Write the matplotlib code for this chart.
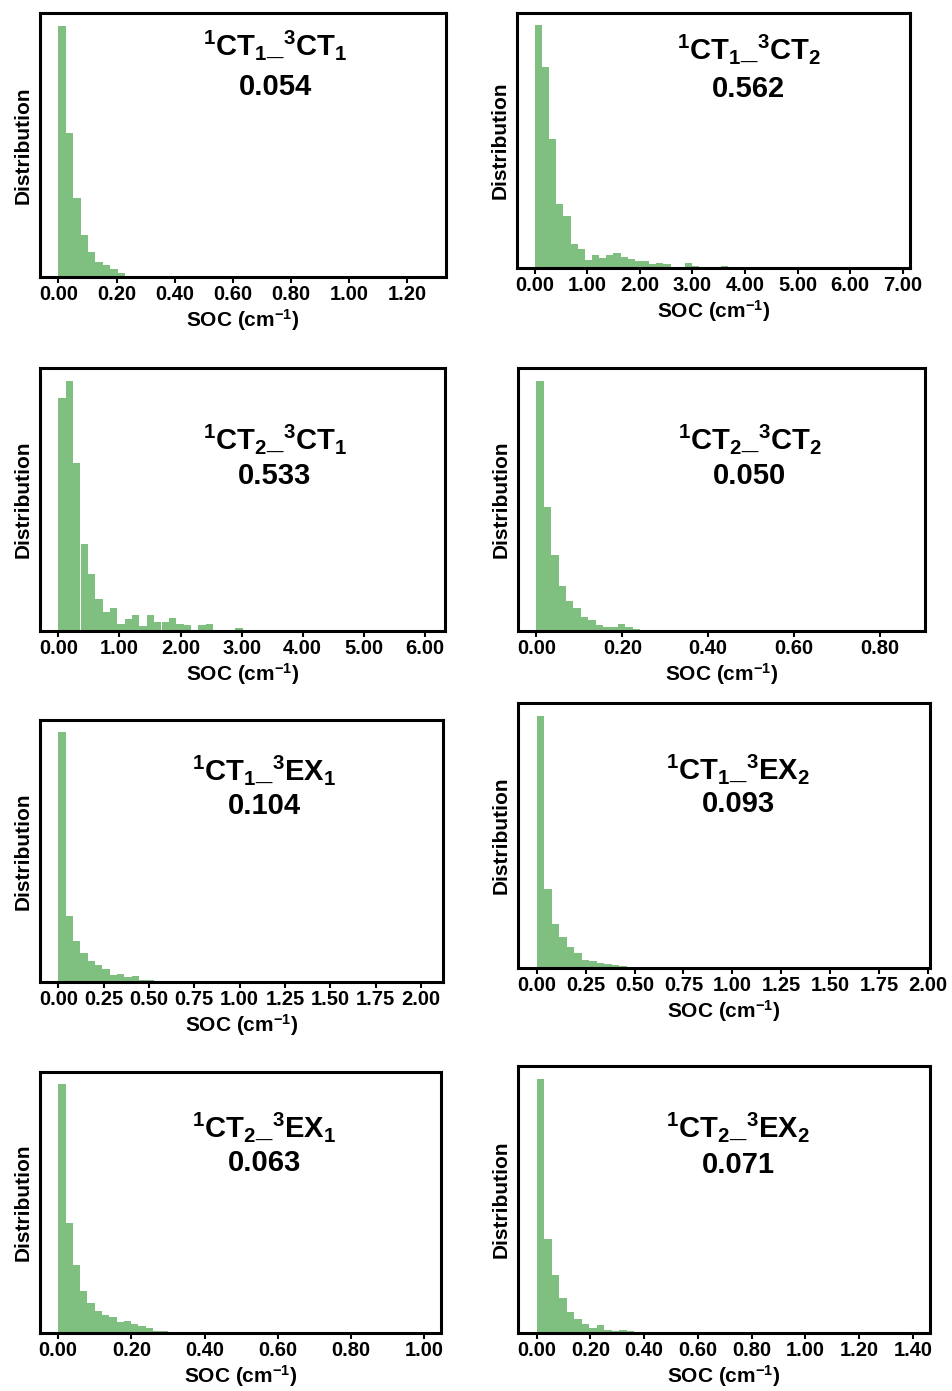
import numpy as np
import matplotlib
matplotlib.use("Agg")
import matplotlib.pyplot as plt

plt.rcParams['font.family'] = ['Liberation Sans', 'DejaVu Sans']
plt.rcParams['font.weight'] = 'bold'
plt.rcParams['mathtext.default'] = 'regular'

# pair labels and average SOC
labels = [r'$^{1}$CT$_{1}$_$^{3}$CT$_{1}$', r'$^{1}$CT$_{1}$_$^{3}$CT$_{2}$',
          r'$^{1}$CT$_{2}$_$^{3}$CT$_{1}$', r'$^{1}$CT$_{2}$_$^{3}$CT$_{2}$',
          r'$^{1}$CT$_{1}$_$^{3}$EX$_{1}$', r'$^{1}$CT$_{1}$_$^{3}$EX$_{2}$',
          r'$^{1}$CT$_{2}$_$^{3}$EX$_{1}$', r'$^{1}$CT$_{2}$_$^{3}$EX$_{2}$']
mean_soc = ['0.054', '0.562', '0.533', '0.050', '0.104', '0.093', '0.063', '0.071']

# upper end of histogram range (cm-1), 50 bins from 0
soc_max = [1.27, 6.80, 6.03, 0.862, 2.02, 1.915, 0.996, 1.394]

# bin counts (remaining bins are empty)
counts_ct1_ct1 = [743, 426, 233, 125, 75, 43, 36, 23, 12, 4, 3, 1, 1]
counts_ct1_ct2 = [718, 593, 382, 188, 155, 72, 55, 25, 38, 30, 38, 44, 33, 27, 22, 22,
                  11, 16, 12, 4, 4, 16, 6, 3, 2, 2, 7, 3, 1, 1, 1, 1]
counts_ct2_ct1 = [690, 743, 497, 258, 168, 96, 57, 67, 20, 35, 47, 15, 47, 27, 27, 40,
                  22, 17, 2, 17, 21, 1, 3, 3, 9, 2, 1, 1, 2]
counts_ct2_ct2 = [746, 370, 225, 135, 88, 68, 41, 33, 18, 11, 11, 20, 11, 6, 2, 1, 1, 1]
counts_ct1_ex1 = [742, 197, 123, 85, 63, 50, 38, 20, 25, 15, 17, 5, 7, 2, 1, 1]
counts_ct1_ex2 = [755, 237, 133, 92, 63, 45, 25, 20, 15, 13, 8, 5, 3, 2, 1, 1]
counts_ct2_ex1 = [745, 330, 205, 125, 90, 65, 53, 48, 32, 35, 27, 20, 15, 7, 5, 3, 2, 1]
counts_ct2_ex2 = [756, 278, 173, 103, 61, 41, 28, 15, 23, 10, 6, 8, 5, 3, 2, 1, 1]
all_counts = [counts_ct1_ct1, counts_ct1_ct2, counts_ct2_ct1, counts_ct2_ct2,
              counts_ct1_ex1, counts_ct1_ex2, counts_ct2_ex1, counts_ct2_ex2]

# x tick positions
xticks = [np.arange(0, 1.21, 0.2), np.arange(0, 7.1, 1), np.arange(0, 6.1, 1),
          np.arange(0, 0.81, 0.2), np.arange(0, 2.01, 0.25), np.arange(0, 2.01, 0.25),
          np.arange(0, 1.01, 0.2), np.arange(0, 1.41, 0.2)]

W, H = 953, 1391
# axes boxes in pixels: left, top, right, bottom
boxes = [(40, 13, 446, 277), (517, 13, 910, 268),
         (40, 368, 445, 631), (518, 368, 925, 631),
         (40, 720, 443, 982), (518, 703, 930, 968),
         (40, 1072, 441, 1333), (518, 1066, 930, 1333)]
# label anchor (axes fraction): x, y of first line, y of second line
text_pos = [(0.58, 0.88, 0.72), (0.59, 0.86, 0.70),
            (0.58, 0.73, 0.59), (0.57, 0.73, 0.59),
            (0.556, 0.81, 0.67), (0.534, 0.75, 0.62),
            (0.56, 0.79, 0.65), (0.534, 0.77, 0.63)]

fig = plt.figure(figsize=(W / 100, H / 100), dpi=100)

for i in range(8):
    l, t, r, b = boxes[i]
    ax = fig.add_axes([l / W, 1 - b / H, (r - l) / W, (b - t) / H])
    edges = np.linspace(0, soc_max[i], 51)
    counts = np.zeros(50)
    counts[:len(all_counts[i])] = all_counts[i]
    ax.hist(edges[:-1], bins=edges, weights=counts, color='green', alpha=0.5)

    ax.set_xticks(xticks[i])
    ax.set_xticklabels(['%.2f' % v for v in xticks[i]])
    ax.set_yticks([])
    ax.tick_params(axis='x', labelsize=14.5, width=1.5, length=4, pad=2)
    for s in ax.spines.values():
        s.set_linewidth(2.2)
    ax.set_xlabel(r'SOC (cm$^{-1}$)', fontsize=15, fontweight='bold', labelpad=2)
    ax.set_ylabel('Distribution', fontsize=15, fontweight='bold', labelpad=5)

    tx, ty1, ty2 = text_pos[i]
    ax.text(tx, ty1, labels[i], transform=ax.transAxes, ha='center', va='center',
            fontsize=21, fontweight='bold')
    ax.text(tx, ty2, mean_soc[i], transform=ax.transAxes, ha='center', va='center',
            fontsize=21, fontweight='bold')

fig.savefig('out.png', dpi=100)
